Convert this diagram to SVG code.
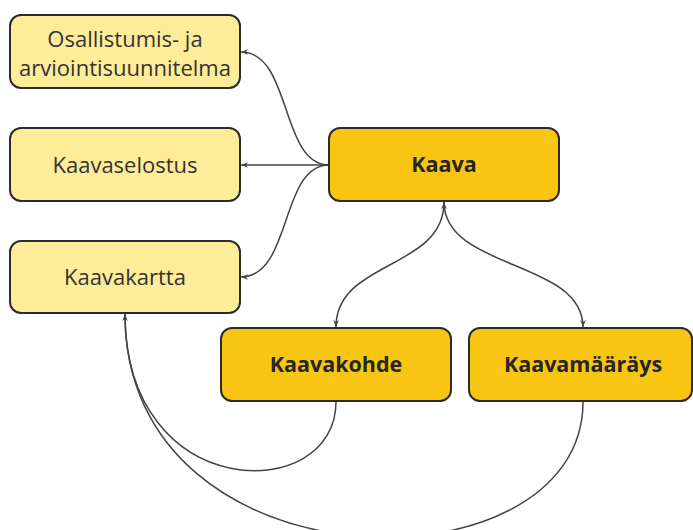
<svg xmlns="http://www.w3.org/2000/svg" width="693" height="530" viewBox="0 0 693 530">
<style>
.light{fill:#FFEC99;stroke:#2b2b2b;stroke-width:2}
.dark{fill:#F9C513;stroke:#2b2b2b;stroke-width:2}
.t{font-family:"Open Sans","Noto Sans",sans-serif;font-size:22px;fill:#333333;text-anchor:middle}
.b{font-weight:bold;fill:#262626;font-size:21.5px}
.c{fill:none;stroke:#444;stroke-width:1.5}
</style>
<defs>
<marker id="ah" viewBox="0 0 10 10" refX="10" refY="5" markerWidth="7" markerHeight="7" markerUnits="userSpaceOnUse" orient="auto-start-reverse">
<path d="M0,1 L10,5 L0,9 L3,5 Z" fill="#444"/>
</marker>
</defs>
<g id="connectors">
<path class="c" d="M329,165 C280,165 292,52 241,52" marker-end="url(#ah)"/>
<path class="c" d="M329,165 L241,165" marker-end="url(#ah)"/>
<path class="c" d="M329,165 C280,165 292,277 241,277" marker-end="url(#ah)"/>
<path class="c" d="M444,202 C444,270 336,260 336,327" marker-start="url(#ah)" marker-end="url(#ah)"/>
<path class="c" d="M444,202 C444,270 583,260 583,327" marker-end="url(#ah)"/>
<path class="c" d="M336,402 C336,505 125,505 125,314" marker-end="url(#ah)"/>
<path class="c" d="M583,402 C583,595 125,595 125,314"/>
</g>
<g id="n1"><rect class="light" x="10" y="15" width="230" height="73" rx="11"/>
<text class="t" x="125" y="47">Osallistumis- ja</text><text class="t" x="125" y="76">arviointisuunnitelma</text></g>
<g id="n2"><rect class="light" x="10" y="128" width="230" height="73" rx="11"/>
<text class="t" x="125" y="173">Kaavaselostus</text></g>
<g id="n3"><rect class="light" x="10" y="241" width="230" height="72" rx="11"/>
<text class="t" x="125" y="285">Kaavakartta</text></g>
<g id="n4"><rect class="dark" x="329" y="128" width="230" height="73" rx="11"/>
<text class="t b" x="444" y="172">Kaava</text></g>
<g id="n5"><rect class="dark" x="221" y="328" width="230" height="73" rx="11"/>
<text class="t b" x="336" y="372">Kaavakohde</text></g>
<g id="n6"><rect class="dark" x="469" y="328" width="223" height="73" rx="11"/>
<text class="t b" x="583" y="372">Kaavamääräys</text></g>
</svg>
